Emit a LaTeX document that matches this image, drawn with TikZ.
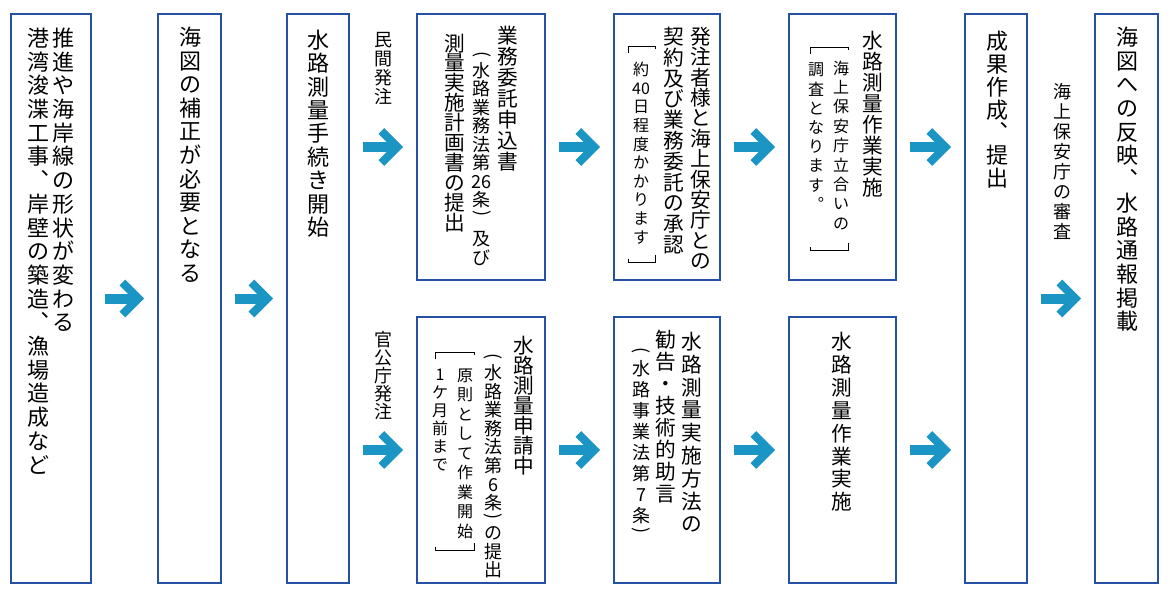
\documentclass[tikz,border=0pt]{standalone}
\usepackage{fontspec}
\usepackage{graphicx}
\newfontfamily\jp{Noto Sans CJK JP}
\usepackage{xcolor}
\definecolor{boxBlue}{HTML}{2451A4}
\definecolor{flowBlue}{HTML}{1B96C4}
\usepackage{tikz}
\usetikzlibrary{arrows.meta, positioning}

% thick chevron head of the flow arrows
\pgfdeclarearrow{
  name = FlowHead,
  setup code = {
    \pgfarrowssettipend{0pt}
    \pgfarrowssetlineend{-6pt}
    \pgfarrowssetbackend{-18.4pt}
    \pgfarrowshullpoint{0pt}{0pt}
    \pgfarrowsupperhullpoint{-14.1pt}{14.1pt}
    \pgfarrowsupperhullpoint{-18.4pt}{9.9pt}
  },
  drawing code = {
    \pgfpathmoveto{\pgfqpoint{0pt}{0pt}}
    \pgfpathlineto{\pgfqpoint{-14.12pt}{14.12pt}}
    \pgfpathlineto{\pgfqpoint{-18.37pt}{9.88pt}}
    \pgfpathlineto{\pgfqpoint{-8.49pt}{0pt}}
    \pgfpathlineto{\pgfqpoint{-18.37pt}{-9.88pt}}
    \pgfpathlineto{\pgfqpoint{-14.12pt}{-14.12pt}}
    \pgfpathclose
    \pgfusepathqfill
  }
}

% vertical text: one cell per character, pitch in px
\ExplSyntaxOn
\dim_new:N \l__tate_pitch_dim
\cs_new_protected:Npn \__tate_cell:nn #1#2
  {
    \hbox_to_wd:nn {1em}
      { \hss \vbox_to_ht:nn {#1} { \vss \hbox:n { \vrule height .88em depth .12em width 0pt #2 } \vss } \hss }
  }
\cs_new_protected:Npn \__tate_paren:nn #1#2
  {
    \hbox_to_wd:nn {1em}
      { \hss \vbox_to_ht:nn {#1} { \vss \hbox:n { \rotatebox[origin=c]{-90}{#2} } \vss } \hss }
  }
\NewDocumentCommand \tate { m m }
  {
    \dim_set:Nn \l__tate_pitch_dim { \fp_to_dim:n { #1 * 0.75pt } }
    \vtop
      {
        \offinterlineskip
        \tl_map_inline:nn {#2}
          {
            \str_case:nnF {##1}
              {
                { ( } { \__tate_paren:nn { 0.6\l__tate_pitch_dim } { ( } }
                { ) } { \__tate_paren:nn { 0.6\l__tate_pitch_dim } { ) } }
                { | } { \__tate_paren:nn { 0.5\l__tate_pitch_dim } { } }
              }
              { \__tate_cell:nn { \l__tate_pitch_dim } {##1} }
          }
      }
  }
\ExplSyntaxOff

\begin{document}
\begin{tikzpicture}[
		x=0.75pt, y=-0.75pt,
		box/.style={
			draw=boxBlue,
			line width=1.5pt,
			inner sep=0pt,
			outer sep=0pt
		},
		tall/.style={box, minimum height=426.75pt},
		half/.style={box, minimum height=199.5pt},
		flow/.style={-FlowHead, color=flowBlue, line width=7.5pt,
			shorten <=10.5pt, shorten >=10.5pt},
		tbig/.style={inner sep=0pt, anchor=north, font=\jp\fontsize{16.5pt}{16.5pt}\selectfont},
		tmid/.style={inner sep=0pt, anchor=north, font=\jp\fontsize{15.5pt}{15.5pt}\selectfont},
		tsmall/.style={inner sep=0pt, anchor=north, font=\jp\fontsize{13.5pt}{13.5pt}\selectfont},
		tnote/.style={inner sep=0pt, anchor=north, font=\jp\fontsize{12pt}{12pt}\selectfont},
		bracket/.style={line width=0.7pt, line cap=butt}
		]
		
		\useasboundingbox (0,0) rectangle (1170,602);
		
		% boxes
		\node[tall, minimum width=60pt] (b1) at (51,298.5) {};
		\node[tall, minimum width=47.25pt, right=50.25pt of b1] (b2) {};
		\node[tall, minimum width=46.5pt, right=49.5pt of b2] (b3) {};
		\node[half, minimum width=96pt] (b4) at (481,147) {};
		\node[half, minimum width=96pt, below=27.75pt of b4] (b5) {};
		\node[half, minimum width=79.5pt, right=51.75pt of b4] (b6) {};
		\node[half, minimum width=79.5pt, below=27.75pt of b6] (b7) {};
		\node[half, minimum width=80.25pt, right=51.75pt of b6] (b8) {};
		\node[half, minimum width=80.25pt, below=27.75pt of b8] (b9) {};
		\node[tall, minimum width=46.5pt] (b10) at (996,298.5) {};
		\node[tall, minimum width=47.25pt, right=51pt of b10] (b11) {};
		
		% texts
		\node[tbig] (t1a) at (63.5,26) {\tate{23.7}{推進や海岸線の形状が変わる}};
		\node[tbig] (t1b) at (38,26) {\tate{23.7}{港湾浚渫工事︑岸壁の築造︑漁場造成など}};
		\node[tbig] (t2) at (190,25) {\tate{23.6}{海図の補正が必要となる}};
		\node[tbig] (t3) at (318,28) {\tate{23.4}{水路測量手続き開始}};
		\node[tsmall] (minkan) at (383,30) {\tate{19}{民間発注}};
		\node[tsmall] (kancho) at (383,330) {\tate{18}{官公庁発注}};
		
		\node[tmid] (t4a) at (507.5,25) {\tate{21}{業務委託申込書}};
		\node[tsmall] (t4b) at (481.7,50) {\tate{18.5}{(水路業務法第{26}条)|及び}};
		\node[tmid] (t4c) at (455,33) {\tate{19.9}{測量実施計画書の提出}};
		
		\node[tmid] (t5a) at (524,335) {\tate{20.1}{水路測量申請中}};
		\node[tsmall] (t5b) at (493,352) {\tate{18.6}{(水路業務法第6条)の提出}};
		\node[tnote] (t5c) at (465,365) {\tate{19.5}{原則として作業開始}};
		\node[tnote] (t5d) at (440,365) {\tate{18}{1ケ月前まで}};
		
		\node[tmid] (t6a) at (701,26) {\tate{20.4}{発注者様と海上保安庁との}};
		\node[tmid] (t6b) at (674,26) {\tate{20.8}{契約及び業務委託の承認}};
		\node[tnote] (t6c) at (641,60) {\tate{18.6}{約{40}日程度かかります}};
		
		\node[tmid] (t7a) at (692,330) {\tate{22.8}{水路測量実施方法の}};
		\node[tmid] (t7b) at (666,328) {\tate{22.1}{勧告・技術的助言}};
		\node[tsmall] (t7c) at (641,345) {\tate{21}{(水路事業法第7条)}};
		
		\node[tmid] (t8a) at (872.5,30) {\tate{21}{水路測量作業実施}};
		\node[tnote] (t8b) at (841,58) {\tate{19.4}{海上保安庁立合いの}};
		\node[tnote] (t8c) at (816,60) {\tate{19.2}{調査となります︒}};
		
		\node[tmid] (t9) at (842,330) {\tate{22.9}{水路測量作業実施}};
		\node[tbig] (t10) at (997,30) {\tate{22.7}{成果作成︑提出}};
		\node[tsmall] (shinsa) at (1062,81) {\tate{20}{海上保安庁の審査}};
		\node[tbig] (t11) at (1127.5,25) {\tate{23.7}{海図への反映︑水路通報掲載}};
		
		% brackets round the notes
		\draw[bracket] (435,359) -- (435,352) -- (474,352) -- (474,355);
		\draw[bracket] (435,547) -- (435,550) -- (474,550) -- (474,543);
		\draw[bracket] (628,53) -- (628,46) -- (655,46) -- (655,49);
		\draw[bracket] (628,259) -- (628,262) -- (655,262) -- (655,255);
		\draw[bracket] (810,54) -- (810,47) -- (848,47) -- (848,50);
		\draw[bracket] (810,247) -- (810,250) -- (848,250) -- (848,243);
		
		% arrows
		\draw[flow] (b1) -- (b2);
		\draw[flow] (b2) -- (b3);
		\draw[flow] (b3.east |- b4) -- (b4);
		\draw[flow] (b3.east |- b5) -- (b5);
		\draw[flow] (b4) -- (b6);
		\draw[flow] (b6) -- (b8);
		\draw[flow] (b5) -- (b7);
		\draw[flow] (b7) -- (b9);
		\draw[flow] (b8) -- (b8 -| b10.west);
		\draw[flow] (b9) -- (b9 -| b10.west);
		\draw[flow] (b10) -- (b11);
		
	\end{tikzpicture}
\end{document}
